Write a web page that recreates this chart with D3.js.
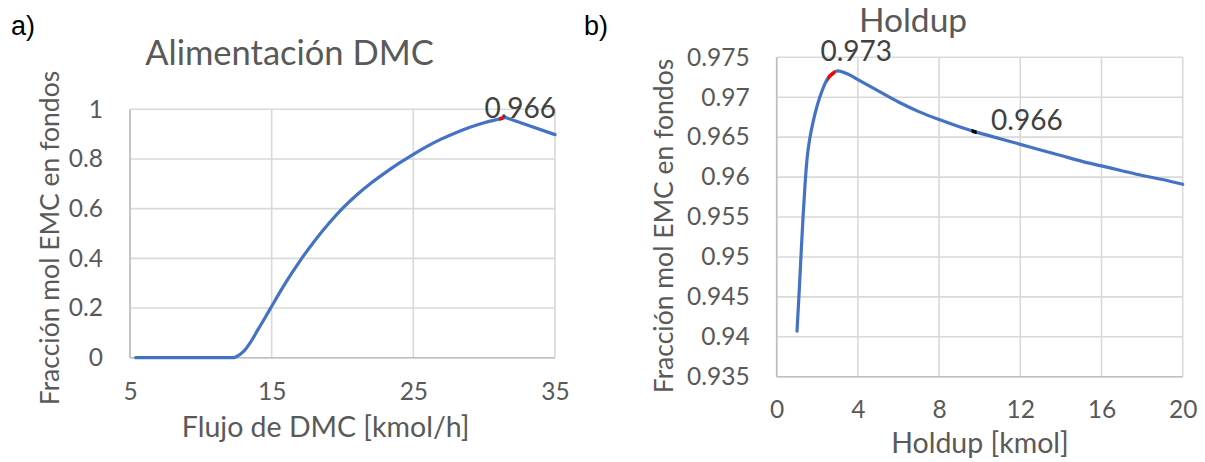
<!DOCTYPE html>
<html>
<head>
<meta charset="utf-8">
<script src="https://d3js.org/d3.v7.min.js"></script>
<style>
  body { margin: 0; background: #fff; }
  svg { display: block; }
</style>
</head>
<body>
<script>
// ---- data ----
// a) Alimentacion DMC
var dmcFlow = [5.4, 7, 9, 11, 12.3, 12.5, 13, 13.5, 14, 14.5, 15, 15.5, 16, 17, 18, 19, 20, 21, 22, 23, 24, 25, 26, 27, 28, 29, 30, 31, 31.5, 35];
var dmcFrac = [0, 0, 0, 0, 0, 0.004, 0.024, 0.062, 0.11, 0.158, 0.207, 0.256, 0.303, 0.39, 0.468, 0.538, 0.601, 0.655, 0.702, 0.744, 0.783, 0.819, 0.852, 0.881, 0.906, 0.928, 0.946, 0.960, 0.967, 0.898];
var dmcXTicks = [5, 15, 25, 35];
var dmcXLabels = ["5", "15", "25", "35"];
var dmcYTicks = [0, 0.2, 0.4, 0.6, 0.8, 1];
var dmcYLabels = ["0", "0.2", "0.4", "0.6", "0.8", "1"];
var dmcMarkRange = [31.05, 31.35];
var dmcMarkLabel = "0.966";

// b) Holdup
var holdupKmol = [1, 1.1, 1.2, 1.3, 1.4, 1.5, 1.65, 1.8, 2, 2.25, 2.5, 2.75, 3, 3.5, 4, 5, 6, 7, 8, 9, 10, 11, 12, 13, 14, 15, 16, 17, 18, 19, 20];
var holdupFrac = [0.9407, 0.9453, 0.9503, 0.9551, 0.9592, 0.9624, 0.9651, 0.9670, 0.9690, 0.9709, 0.9723, 0.97295, 0.9733, 0.9729, 0.9722, 0.9708, 0.9694, 0.9682, 0.9672, 0.9663, 0.9655, 0.9648, 0.9641, 0.9634, 0.9627, 0.9620, 0.9614, 0.9608, 0.9602, 0.9597, 0.9591];
var holdupXTicks = [0, 4, 8, 12, 16, 20];
var holdupXLabels = ["0", "4", "8", "12", "16", "20"];
var holdupYTicks = [0.935, 0.94, 0.945, 0.95, 0.955, 0.96, 0.965, 0.97, 0.975];
var holdupYLabels = ["0.935", "0.94", "0.945", "0.95", "0.955", "0.96", "0.965", "0.97", "0.975"];
var holdupMaxRange = [2.5, 2.88];
var holdupMaxLabel = "0.973";
var holdupRefRange = [9.6, 9.85];
var holdupRefLabel = "0.966";

var svgWidth = 1205;
var svgHeight = 462;
var FONT = "Lato, 'Open Sans', sans-serif";
var textGrey = "#595959";

var svg = d3.select("body")
    .append("svg")
    .attr("width", svgWidth)
    .attr("height", svgHeight);

svg.append("rect")
    .attr("width", svgWidth)
    .attr("height", svgHeight)
    .attr("fill", "#fff");

function drawPanel(o) {
    var g = svg.append("g");

    var xScale = d3.scaleLinear().domain(o.xDomain).range(o.xRange);
    var yScale = d3.scaleLinear().domain(o.yDomain).range(o.yRange);

    // gridlines
    g.selectAll(null)
        .data(o.yTicks)
        .enter()
        .append("line")
        .attr("x1", o.xRange[0])
        .attr("x2", o.xRange[1])
        .attr("y1", d => yScale(d))
        .attr("y2", d => yScale(d))
        .attr("stroke", "#d9d9d9")
        .attr("stroke-width", 1.6);

    g.selectAll(null)
        .data(o.xTicks)
        .enter()
        .append("line")
        .attr("x1", d => xScale(d))
        .attr("x2", d => xScale(d))
        .attr("y1", o.yRange[0])
        .attr("y2", o.yRange[1])
        .attr("stroke", "#d9d9d9")
        .attr("stroke-width", 1.6);

    // axis lines
    g.append("line")
        .attr("x1", o.xRange[0]).attr("x2", o.xRange[1])
        .attr("y1", o.yRange[0]).attr("y2", o.yRange[0])
        .attr("stroke", "#bfbfbf")
        .attr("stroke-width", 1.6);
    g.append("line")
        .attr("x1", o.xRange[0]).attr("x2", o.xRange[0])
        .attr("y1", o.yRange[0]).attr("y2", o.yRange[1])
        .attr("stroke", "#bfbfbf")
        .attr("stroke-width", 1.6);

    // tick labels
    var bottomAxis = d3.axisBottom(xScale)
        .tickValues(o.xTicks)
        .tickSize(0)
        .tickPadding(o.xPad)
        .tickFormat((d, i) => o.xLabels[i]);
    var leftAxis = d3.axisLeft(yScale)
        .tickValues(o.yTicks)
        .tickSize(0)
        .tickPadding(o.yPad)
        .tickFormat((d, i) => o.yLabels[i]);

    var xAxisG = g.append("g")
        .attr("transform", `translate(0, ${o.yRange[0]})`)
        .call(bottomAxis);
    var yAxisG = g.append("g")
        .attr("transform", `translate(${o.xRange[0]}, 0)`)
        .call(leftAxis);
    [xAxisG, yAxisG].forEach(function (a) {
        a.select(".domain").remove();
        a.attr("font-family", FONT).attr("font-size", 24.5);
        a.selectAll("text").attr("fill", textGrey);
    });

    // the series: smooth up to the break point, straight after it
    var pts = d3.zip(o.xs, o.ys);
    var smoothLine = d3.line()
        .x(d => xScale(d[0]))
        .y(d => yScale(d[1]))
        .curve(d3.curveMonotoneX);
    var straightLine = d3.line()
        .x(d => xScale(d[0]))
        .y(d => yScale(d[1]));

    var cut = o.breakAtMax ? d3.maxIndex(o.ys) : pts.length - 1;
    var pieces = [smoothLine(pts.slice(0, cut + 1))];
    if (cut < pts.length - 1) pieces.push(straightLine(pts.slice(cut)));

    var drawSeries = function (stroke, width, clip) {
        pieces.forEach(function (d) {
            var p = g.append("path")
                .attr("d", d)
                .attr("fill", "none")
                .attr("stroke", stroke)
                .attr("stroke-width", width)
                .attr("stroke-linecap", "round")
                .attr("stroke-linejoin", "round");
            if (clip) p.attr("clip-path", `url(#${clip})`).attr("stroke-linecap", "butt");
        });
    };
    drawSeries("#4472C4", 3.2, null);

    // highlighted stretches with their labels
    var along = d3.scaleLinear().domain(o.xs).range(o.ys);
    o.marks.forEach(function (m, i) {
        var id = o.id + "-mark" + i;
        g.append("clipPath")
            .attr("id", id)
            .append("rect")
            .attr("x", xScale(m.range[0]))
            .attr("width", xScale(m.range[1]) - xScale(m.range[0]))
            .attr("y", 0)
            .attr("height", svgHeight);
        drawSeries(m.color, 3.6, id);

        var mid = (m.range[0] + m.range[1]) / 2;
        g.append("text")
            .attr("x", xScale(mid) + m.dx)
            .attr("y", yScale(along(mid)) + m.dy)
            .attr("text-anchor", m.anchor)
            .attr("font-family", FONT)
            .attr("font-size", 28)
            .attr("fill", "#404040")
            .text(m.label);
    });

    // chart title
    g.append("text")
        .attr("x", o.title[1])
        .attr("y", o.title[2])
        .attr("text-anchor", "middle")
        .attr("font-family", FONT)
        .attr("font-size", o.titleSize)
        .attr("fill", textGrey)
        .text(o.title[0]);

    // x axis title
    g.append("text")
        .attr("x", o.xTitle[1])
        .attr("y", o.xTitle[2])
        .attr("text-anchor", "middle")
        .attr("font-family", FONT)
        .attr("font-size", 28.5)
        .attr("fill", textGrey)
        .text(o.xTitle[0]);

    // y axis title
    g.append("text")
        .attr("transform", `translate(${o.yTitle[1]}, ${o.yTitle[2]}) rotate(-90)`)
        .attr("text-anchor", "middle")
        .attr("font-family", FONT)
        .attr("font-size", 26.5)
        .attr("fill", textGrey)
        .text(o.yTitle[0]);

    // panel letter
    g.append("text")
        .attr("x", o.letter[1])
        .attr("y", o.letter[2])
        .attr("font-family", "'Liberation Sans', Arial, sans-serif")
        .attr("font-size", 27)
        .attr("fill", "#000")
        .text(o.letter[0]);
}

drawPanel({
    id: "dmc",
    xs: dmcFlow,
    ys: dmcFrac,
    breakAtMax: true,
    xDomain: [5, 35],
    xRange: [130, 555],
    yDomain: [0, 1],
    yRange: [357.7, 109.3],
    xTicks: dmcXTicks,
    xLabels: dmcXLabels,
    yTicks: dmcYTicks,
    yLabels: dmcYLabels,
    xPad: 25,
    yPad: 27,
    marks: [
        { range: dmcMarkRange, label: dmcMarkLabel, color: "#ff0000", dx: 19, dy: -1, anchor: "middle" }
    ],
    title: ["Alimentación DMC", 289.5, 65],
    titleSize: 34.5,
    xTitle: ["Flujo de DMC [kmol/h]", 325.7, 437],
    yTitle: ["Fracción mol EMC en fondos", 59, 238],
    letter: ["a)", 11, 35]
});

drawPanel({
    id: "holdup",
    xs: holdupKmol,
    ys: holdupFrac,
    breakAtMax: false,
    xDomain: [0, 20],
    xRange: [776.7, 1182.7],
    yDomain: [0.935, 0.975],
    yRange: [376.7, 57.3],
    xTicks: holdupXTicks,
    xLabels: holdupXLabels,
    yTicks: holdupYTicks,
    yLabels: holdupYLabels,
    xPad: 24,
    yPad: 27,
    marks: [
        { range: holdupMaxRange, label: holdupMaxLabel, color: "#ff0000", dx: 25, dy: -14, anchor: "middle" },
        { range: holdupRefRange, label: holdupRefLabel, color: "#000000", dx: 17, dy: -1, anchor: "start" }
    ],
    title: ["Holdup", 913, 32],
    titleSize: 33.5,
    xTitle: ["Holdup [kmol]", 980, 453],
    yTitle: ["Fracción mol EMC en fondos", 673, 226],
    letter: ["b)", 584, 35]
});
</script>
</body>
</html>
